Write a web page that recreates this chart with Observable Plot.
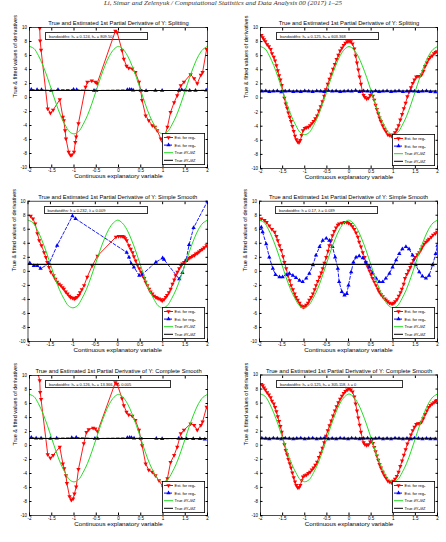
<!DOCTYPE html>
<html><head><meta charset="utf-8">
<script src="https://cdn.jsdelivr.net/npm/d3@7"></script>
<script src="https://cdn.jsdelivr.net/npm/@observablehq/plot@0.6"></script>
<style>
body{margin:0;background:#fff;}
#root{position:relative;width:446px;height:542px;overflow:hidden;background:#fff;font-family:"Liberation Sans",Arial,sans-serif;}
.hdr{position:absolute;left:0;width:446px;top:0px;text-align:center;font:italic 7px/7px "Liberation Serif",serif;color:#333;white-space:nowrap;}
.bw{position:absolute;border:0.8px solid #333;background:#fff;font-size:4px;line-height:7px;padding-left:3px;box-sizing:border-box;white-space:nowrap;color:#111;}
</style></head><body><div id="root"></div>
<script>
// ---------- shared text / ticks ----------
const headerText = "Li, Simar and Zelenyuk / Computational Statistics and Data Analysis 00 (2017) 1–25";
const titles = [
  "True and Estimated 1st Partial Derivative of Y: Splitting",
  "True and Estimated 1st Partial Derivative of Y: Splitting",
  "True and Estimated 1st Partial Derivative of Y: Simple Smooth",
  "True and Estimated 1st Partial Derivative of Y: Simple Smooth",
  "True and Estimated 1st Partial Derivative of Y: Complete Smooth",
  "True and Estimated 1st Partial Derivative of Y: Complete Smooth"
];
const bwTexts = [
  "bandwidths: h\u2081 = 0.124,  h\u2082 = 809.50",
  "bandwidths: h\u2081 = 0.125,  h\u2082 = 603.368",
  "bandwidths: h = 0.232,  \u03bb = 0.009",
  "bandwidths: h = 0.17,  \u03bb = 0.039",
  "bandwidths: h\u2081 = 0.126, h\u2082 = 13.366, \u03bb = 0.005",
  "bandwidths: h\u2081 = 0.125, h\u2082 = 305.118, \u03bb = 0"
];
const xLabel = "Continuous explanatory variable";
const yLabel = "True & fitted values of derivatives";
const legendLabels = ["Est. for reg\u2081", "Est. for reg\u2082", "True \u2202Y\u2081/\u2202Z", "True \u2202Y\u2082/\u2202Z"];
const xTicks = [-2, -1.5, -1, -0.5, 0, 0.5, 1, 1.5, 2];
const yTicks = [-10, -8, -6, -4, -2, 0, 2, 4, 6, 8, 10];

// ---------- true derivative curves ----------
const trueX  = [-2,-1.9,-1.8,-1.7,-1.6,-1.5,-1.4,-1.3,-1.2,-1.1,-1,-0.9,-0.8,-0.7,-0.6,-0.5,-0.4,-0.3,-0.2,-0.1,0,0.1,0.2,0.3,0.4,0.5,0.6,0.7,0.8,0.9,1,1.1,1.2,1.3,1.4,1.5,1.6,1.7,1.8,1.9,2];
const trueY1 = [7.3,7.0,6.0,4.6,2.9,1.0,-0.9,-2.6,-3.9,-4.9,-5.2,-4.9,-3.9,-2.6,-0.9,1.0,2.9,4.6,6.0,6.9,7.3,6.9,6.0,4.6,2.9,1.0,-0.9,-2.6,-3.9,-4.9,-5.2,-4.9,-3.9,-2.6,-0.9,1.0,2.9,4.6,6.0,6.9,7.3];
const trueY2X = [-2, 2];
const trueY2  = [1, 1];

// ---------- panel 1: Splitting (left) ----------
const redX1 = [-1.77,-1.76,-1.74,-1.59,-1.53,-1.47,-1.32,-1.25,-1.23,-1.2,-1.18,-1.12,-1.08,-1.05,-1.0,-0.97,-0.95,-0.9,-0.74,-0.7,-0.6,-0.52,-0.48,-0.07,-0.03,0.08,0.12,0.18,0.23,0.31,0.38,0.46,0.5,0.53,0.61,0.68,0.76,0.82,0.87,0.95,1.0,1.1,1.17,1.25,1.32,1.4,1.47,1.62,1.7,1.77,1.85,1.89,1.98];
const redY1 = [9.9,8.1,6.8,-1.6,-2.2,-1.8,-0.3,-2.8,-3.3,-4.7,-5.9,-7.8,-8.2,-8.2,-7.8,-6.4,-5.6,-3.7,1.5,2.2,2.4,2.2,2.0,9.5,9.3,6.7,5.5,4.5,4.2,4.1,3.6,2.2,1.0,-0.4,-2.6,-3.3,-4.0,-4.2,-4.7,-5.9,-6.4,-4.2,-2.1,-0.7,0.3,1.7,2.2,3.3,2.7,2.0,3.2,3.6,6.9];
const blueX1 = [-1.96,-1.83,-1.73,-1.51,-1.36,-1.01,-0.94,-0.55,-0.5,0.2,0.25,0.29,0.33,0.5,0.62,0.83,0.98,1.36,1.42,1.5,1.6,1.73,1.97];
const blueY1 = [1.15,1.1,1.1,1.0,1.1,1.15,1.1,1.0,1.0,1.1,1.15,1.1,1.05,1.0,0.95,1.0,1.0,1.0,1.1,1.05,1.0,1.0,1.05];

// ---------- panel 2: Splitting (right) ----------
const redX2 = [-1.98,-1.95,-1.92,-1.89,-1.85,-1.81,-1.77,-1.74,-1.70,-1.67,-1.64,-1.61,-1.58,-1.55,-1.52,-1.49,-1.46,-1.43,-1.40,-1.37,-1.34,-1.31,-1.28,-1.25,-1.22,-1.19,-1.16,-1.13,-1.10,-1.07,-1.04,-1.00,-0.96,-0.92,-0.88,-0.84,-0.80,-0.76,-0.72,-0.68,-0.64,-0.60,-0.56,-0.52,-0.48,-0.44,-0.40,-0.36,-0.32,-0.28,-0.24,-0.20,-0.16,-0.12,-0.08,-0.04,0.00,0.04,0.08,0.12,0.15,0.18,0.21,0.24,0.27,0.30,0.33,0.36,0.40,0.44,0.48,0.51,0.54,0.57,0.60,0.63,0.66,0.69,0.72,0.76,0.80,0.84,0.88,0.92,0.96,1.00,1.04,1.08,1.12,1.16,1.20,1.24,1.28,1.32,1.36,1.40,1.44,1.48,1.52,1.56,1.60,1.64,1.68,1.72,1.76,1.80,1.84,1.88,1.92,1.96,1.99];
const redY2 = [8.9,8.6,8.3,8.0,7.6,7.3,6.9,6.3,5.8,5.3,4.6,3.9,3.2,2.6,1.8,1.0,0.0,-0.8,-1.4,-2.1,-2.7,-3.3,-4.0,-4.7,-5.4,-5.9,-6.2,-6.3,-6.0,-5.3,-4.6,-4.3,-4.2,-4.1,-3.9,-3.6,-3.3,-2.9,-2.5,-1.8,-1.2,-0.5,0.3,1.2,2.0,2.7,3.4,4.1,4.8,5.5,6.1,6.7,7.1,7.5,7.8,8.0,8.0,8.0,7.7,7.0,6.0,5.0,4.0,3.0,2.0,1.0,0.4,0.1,-0.1,0.0,0.4,0.7,0.3,-0.3,-1.0,-1.6,-2.2,-2.8,-3.3,-3.9,-4.4,-4.8,-5.2,-5.3,-5.4,-5.2,-4.9,-4.5,-3.9,-3.1,-2.3,-1.5,-0.7,0.2,0.9,1.5,2.1,2.6,3.0,3.1,3.1,3.3,3.8,4.5,5.0,5.5,5.8,6.0,6.3,6.5,6.6];
const blueX2 = [-1.97,-1.88,-1.8,-1.71,-1.62,-1.53,-1.44,-1.35,-1.26,-1.18,-1.09,-1.0,-0.91,-0.82,-0.73,-0.64,-0.56,-0.47,-0.38,-0.29,-0.2,-0.11,-0.02,0.06,0.15,0.24,0.33,0.42,0.51,0.6,0.68,0.77,0.86,0.95,1.04,1.13,1.22,1.31,1.4,1.48,1.57,1.66,1.75,1.84,1.95];
const blueY2 = [0.95,1.0,0.9,0.95,1.0,0.85,0.95,1.0,0.9,0.95,0.9,1.0,0.95,0.9,1.0,0.95,0.9,1.05,0.95,1.0,0.9,0.95,1.0,0.95,1.05,0.9,1.0,0.95,0.9,1.0,0.9,0.95,1.0,0.9,0.95,1.0,0.9,0.95,1.0,0.95,0.9,0.95,1.0,0.9,0.85];

// ---------- panel 3: Simple Smooth (left) ----------
const redX3 = [-1.94,-1.89,-1.84,-1.79,-1.75,-1.70,-1.64,-1.60,-1.57,-1.53,-1.49,-1.43,-1.39,-1.35,-1.31,-1.27,-1.23,-1.20,-1.16,-1.12,-1.08,-1.05,-1.01,-0.97,-0.94,-0.91,-0.87,-0.84,-0.80,-0.75,-0.68,-0.57,-0.45,-0.04,0.02,0.07,0.11,0.14,0.17,0.20,0.25,0.29,0.33,0.36,0.40,0.44,0.48,0.52,0.55,0.59,0.62,0.66,0.70,0.73,0.77,0.81,0.85,0.88,0.92,0.96,0.99,1.03,1.07,1.10,1.14,1.18,1.22,1.26,1.29,1.33,1.37,1.41,1.44,1.48,1.52,1.56,1.59,1.63,1.67,1.71,1.74,1.78,1.81,1.85,1.89,1.93,1.98];
const redY3 = [7.9,7.5,6.8,5.4,4.4,3.7,2.7,2.0,1.3,0.6,-0.1,-0.6,-1.1,-1.5,-1.8,-2.0,-2.3,-2.5,-2.9,-3.2,-3.5,-3.7,-3.8,-3.9,-3.8,-3.7,-3.4,-3.0,-2.6,-2.0,-0.8,0.8,2.2,4.9,5.0,5.0,5.0,4.9,4.7,4.4,3.7,3.2,2.7,2.1,1.5,0.9,0.4,-0.1,-0.6,-1.0,-1.5,-2.0,-2.5,-2.9,-3.2,-3.5,-3.7,-3.8,-3.9,-4.0,-4.2,-4.0,-3.7,-3.4,-3.0,-2.5,-1.8,-1.2,-0.6,-0.1,0.4,0.8,1.1,1.3,1.5,1.7,1.9,2.0,2.2,2.3,2.5,2.6,2.8,3.0,3.2,3.4,3.7];
const blueX3 = [-1.96,-1.87,-1.79,-1.72,-1.53,-1.35,-1.01,-0.94,0.20,0.25,0.30,0.36,0.48,0.55,0.85,1.00,1.03,1.37,1.44,1.52,1.59,1.69,2.0];
const blueY3 = [1.2,0.8,0.8,0.4,1.1,3.7,7.9,7.5,2.7,2.0,1.1,0.6,-0.6,-0.4,1.3,1.9,1.7,-1.1,-0.2,1.5,3.8,6.2,10.0];

// ---------- panel 4: Simple Smooth (right) ----------
const redX4 = [-1.96,-1.89,-1.84,-1.78,-1.72,-1.66,-1.62,-1.59,-1.55,-1.51,-1.47,-1.44,-1.40,-1.36,-1.32,-1.29,-1.25,-1.21,-1.18,-1.14,-1.10,-1.07,-1.04,-1.01,-0.98,-0.95,-0.91,-0.88,-0.84,-0.80,-0.76,-0.73,-0.69,-0.65,-0.61,-0.58,-0.54,-0.50,-0.46,-0.43,-0.39,-0.36,-0.32,-0.28,-0.24,-0.21,-0.15,-0.09,-0.04,0.00,0.05,0.09,0.13,0.17,0.21,0.24,0.28,0.32,0.36,0.39,0.43,0.47,0.51,0.54,0.58,0.62,0.66,0.69,0.73,0.77,0.81,0.84,0.88,0.92,0.96,0.99,1.02,1.05,1.09,1.13,1.17,1.20,1.24,1.27,1.31,1.35,1.39,1.42,1.46,1.50,1.55,1.59,1.63,1.66,1.70,1.74,1.78,1.81,1.86,1.90,1.95,1.99];
const redY4 = [7.5,7.3,7.0,6.5,6.0,5.6,5.0,4.4,3.7,3.0,2.1,1.3,0.4,-0.6,-1.3,-2.0,-2.6,-3.2,-3.7,-4.1,-4.5,-4.9,-5.0,-5.1,-5.0,-4.8,-4.5,-4.1,-3.7,-3.2,-2.6,-2.0,-1.4,-0.8,-0.2,0.4,1.2,2.0,2.9,3.7,4.4,5.1,5.7,6.2,6.6,6.8,6.9,7.0,7.0,6.9,6.7,6.4,6.0,5.5,4.9,4.2,3.5,2.7,2.0,1.3,0.7,0.1,-0.5,-1.0,-1.5,-2.0,-2.5,-2.9,-3.3,-3.6,-3.9,-4.1,-4.3,-4.5,-4.6,-4.6,-4.5,-4.3,-4.0,-3.5,-3.0,-2.5,-1.8,-1.0,-0.4,0.1,0.6,1.1,1.6,2.0,2.4,2.7,3.1,3.5,3.9,4.2,4.4,4.6,4.9,5.2,5.4,5.6];
const blueX4 = [-1.96,-1.93,-1.85,-1.78,-1.70,-1.64,-1.55,-1.48,-1.40,-1.33,-1.25,-1.18,-1.10,-1.03,-0.95,-0.88,-0.80,-0.73,-0.65,-0.58,-0.50,-0.43,-0.36,-0.30,-0.24,-0.21,-0.15,-0.09,-0.04,0.00,0.06,0.11,0.17,0.24,0.32,0.39,0.47,0.54,0.62,0.69,0.77,0.84,0.92,0.99,1.07,1.14,1.21,1.29,1.36,1.44,1.51,1.59,1.66,1.74,1.81,1.89,1.96,2.0];
const blueY4 = [6.3,5.6,3.9,2.0,0.4,-0.5,-0.8,-0.8,-0.5,-0.3,-0.6,-0.9,-1.3,-1.5,-1.0,-0.3,0.9,2.3,3.5,4.4,4.7,4.4,3.5,2.0,0.4,-1.5,-2.9,-3.4,-3.2,-2.0,-0.1,1.3,2.0,2.2,1.9,1.3,0.6,-0.2,-1.0,-1.5,-1.5,-1.0,-0.3,0.6,1.6,2.5,3.2,3.5,3.2,2.3,0.9,-0.1,-0.7,-1.0,-0.6,0.9,2.5,3.7];

// ---------- panel 5: Complete Smooth (left) ----------
const redX5 = [-1.81,-1.77,-1.76,-1.74,-1.59,-1.53,-1.47,-1.32,-1.25,-1.22,-1.18,-1.16,-1.1,-1.06,-1.02,-0.99,-0.95,-0.9,-0.78,-0.72,-0.67,-0.57,-0.52,-0.47,-0.07,-0.03,0.08,0.12,0.18,0.23,0.31,0.38,0.46,0.5,0.53,0.61,0.68,0.76,0.83,0.91,1.0,1.1,1.17,1.25,1.32,1.4,1.47,1.62,1.7,1.77,1.85,1.89,1.98];
const redY5 = [10.3,9.3,7.6,6.6,-1.3,-1.8,-1.4,-0.2,-2.6,-3.3,-4.3,-5.4,-7.3,-7.8,-7.6,-6.9,-5.9,-3.4,0.3,1.9,2.3,2.5,2.4,2.0,9.0,8.8,6.7,5.7,4.8,4.4,4.2,3.6,2.2,1.0,0.0,-2.6,-3.5,-3.8,-4.3,-5.0,-5.9,-4.7,-2.4,-1.4,-0.2,1.7,2.2,3.1,2.9,2.2,2.9,3.4,5.5];
const blueX5 = [-1.96,-1.85,-1.74,-1.53,-1.39,-1.05,-0.95,-0.53,-0.47,0.2,0.25,0.29,0.35,0.5,0.85,0.98,1.35,1.42,1.53,1.68,1.83,1.94];
const blueY5 = [1.15,1.05,1.05,1.0,1.05,1.1,1.15,1.0,1.0,1.1,1.15,1.1,1.05,1.0,1.0,0.95,1.0,1.0,0.95,0.95,0.95,0.9];

// ---------- panel 6: Complete Smooth (right) ----------
const redX6 = redX2;
const redY6 = [8.7,8.5,8.2,7.9,7.5,7.2,6.8,6.3,5.9,5.4,4.8,4.1,3.4,2.7,1.9,1.0,0.1,-0.7,-1.3,-2.0,-2.6,-3.2,-3.9,-4.6,-5.2,-5.7,-6.0,-6.0,-5.7,-5.0,-4.5,-4.3,-4.2,-4.0,-3.8,-3.5,-3.2,-2.8,-2.4,-1.7,-1.1,-0.4,0.4,1.3,2.1,2.8,3.5,4.2,4.9,5.5,6.1,6.6,7.0,7.4,7.7,7.9,8.0,7.9,7.6,6.9,5.9,4.9,3.9,2.9,1.9,1.0,0.4,0.1,0.0,0.1,0.5,0.7,0.3,-0.3,-0.9,-1.5,-2.1,-2.7,-3.2,-3.8,-4.3,-4.7,-5.1,-5.2,-5.3,-5.1,-4.8,-4.4,-3.8,-3.0,-2.2,-1.4,-0.6,0.2,0.9,1.5,2.1,2.6,3.0,3.1,3.1,3.3,3.8,4.4,4.9,5.4,5.7,5.9,6.1,6.3,6.4];
const blueX6 = blueX2;
const blueY6 = [1.0,0.95,0.9,1.0,0.95,0.9,1.0,0.95,0.9,0.95,1.0,0.9,0.95,1.0,0.9,0.95,1.0,0.9,0.95,0.9,1.0,0.95,0.9,1.0,0.95,0.9,0.95,1.0,0.9,0.95,1.0,0.9,0.95,0.9,1.0,0.95,0.9,0.95,0.9,1.0,0.95,0.9,0.95,0.9,0.9];

const redSets  = [[redX1,redY1],[redX2,redY2],[redX3,redY3],[redX4,redY4],[redX5,redY5],[redX6,redY6]];
const blueSets = [[blueX1,blueY1],[blueX2,blueY2],[blueX3,blueY3],[blueX4,blueY4],[blueX5,blueY5],[blueX6,blueY6]];

// ---------- layout (pixels) ----------
const geo = [
  {left:0,   top:14,  w:222, h:172, mL:29,   mR:15, mT:13,   mB:19, boxW:103},
  {left:222, top:14,  w:224, h:172, mL:38,   mR:9,  mT:13,   mB:18, boxW:103},
  {left:0,   top:188, w:222, h:172, mL:27.5, mR:15, mT:12.7, mB:19, boxW:104},
  {left:222, top:188, w:224, h:172, mL:37,   mR:9,  mT:12.7, mB:19, boxW:103},
  {left:0,   top:362, w:222, h:172, mL:29,   mR:15, mT:13,   mB:19, boxW:126},
  {left:222, top:362, w:224, h:172, mL:38,   mR:9,  mT:12.5, mB:19, boxW:127}
];

const RED = "#ff0000", BLUE = "#0000ff", GREEN = "#22dd22", BLACK = "#000000";
const FONT = "Liberation Sans, Arial, sans-serif";

const triDown = {
  draw(ctx, size) {
    const y = Math.sqrt(size / (3 * Math.sqrt(3)));
    ctx.moveTo(0, 2 * y);
    ctx.lineTo(-Math.sqrt(3) * y, -y);
    ctx.lineTo(Math.sqrt(3) * y, -y);
    ctx.closePath();
  }
};

const root = document.getElementById("root");
const hdr = document.createElement("div");
hdr.className = "hdr"; hdr.textContent = headerText;
root.appendChild(hdr);

const toRows = (xs, ys) => xs.map((x, i) => ({x, y: ys[i]}));
const green = toRows(trueX, trueY1);
const black = toRows(trueY2X, trueY2);

// bandwidth boxes (beneath the plots)
geo.forEach((g, k) => {
  const b = document.createElement("div");
  b.className = "bw";
  b.style.left = (g.left + g.mL + 16) + "px";
  b.style.top = (g.top + g.mT + 5) + "px";
  b.style.width = g.boxW + "px";
  b.style.height = "8px";
  b.textContent = bwTexts[k];
  root.appendChild(b);
});

geo.forEach((g, k) => {
  const red = toRows(...redSets[k]);
  const blue = toRows(...blueSets[k]);
  const chart = Plot.plot({
    width: g.w, height: g.h,
    marginLeft: g.mL, marginRight: g.mR, marginTop: g.mT, marginBottom: g.mB,
    style: {background: "transparent", fontFamily: FONT, overflow: "visible"},
    x: {domain: [-2, 2]},
    y: {domain: [-10, 10]},
    marks: [
      Plot.line(red, {x: "x", y: "y", stroke: RED, strokeWidth: 0.9, clip: true}),
      Plot.dot(red, {x: "x", y: "y", symbol: triDown, r: 1.6, fill: RED, clip: true}),
      Plot.line(blue, {x: "x", y: "y", stroke: BLUE, strokeWidth: 0.9, strokeDasharray: "3,2", clip: true}),
      Plot.dot(blue, {x: "x", y: "y", symbol: "triangle", r: 1.6, fill: BLUE, clip: true}),
      Plot.line(green, {x: "x", y: "y", stroke: GREEN, strokeWidth: 1, curve: "catmull-rom", clip: true}),
      Plot.line(black, {x: "x", y: "y", stroke: BLACK, strokeWidth: 1.1, clip: true}),
      Plot.frame({stroke: "#000", strokeWidth: 0.7}),
      Plot.axisX(xTicks, {anchor: "bottom", tickSize: -2.5, tickPadding: 3.5, fontSize: 4.5, tickFormat: d => String(d), label: null}),
      Plot.axisX(xTicks, {anchor: "top", tickSize: -2.5, tickFormat: () => "", label: null}),
      Plot.axisY(yTicks, {anchor: "left", tickSize: -2.5, tickPadding: 5, fontSize: 4.5, tickFormat: d => String(d), label: null}),
      Plot.axisY(yTicks, {anchor: "right", tickSize: -2.5, tickFormat: () => "", label: null}),
      Plot.text([titles[k]], {text: d => d, frameAnchor: "top", dy: -6.5, fontSize: 5.8}),
      Plot.text([xLabel], {text: d => d, frameAnchor: "bottom", dy: 10.6, fontSize: 6.2}),
      Plot.text([yLabel], {text: d => d, frameAnchor: "left", dx: -14, rotate: -90, fontSize: 5.6})
    ]
  });
  chart.style.position = "absolute";
  chart.style.left = g.left + "px";
  chart.style.top = g.top + "px";
  root.appendChild(chart);
});

// legends (on top)
geo.forEach((g) => {
  const W = 43, H = 32;
  const plotRight = g.left + g.w - g.mR;
  const plotBottom = g.top + g.h - g.mB;
  const svg = d3.create("svg")
    .attr("width", W).attr("height", H)
    .style("position", "absolute")
    .style("left", (plotRight - 2 - W) + "px")
    .style("top", (plotBottom - 2.5 - H) + "px")
    .style("font-family", FONT);
  svg.append("rect").attr("x", 0.4).attr("y", 0.4).attr("width", W - 0.8).attr("height", H - 0.8)
    .attr("fill", "#fff").attr("stroke", "#000").attr("stroke-width", 0.8);
  const rows = [
    {c: RED, dash: null, sym: triDown},
    {c: BLUE, dash: "3,2", sym: d3.symbolTriangle},
    {c: GREEN, dash: null, sym: null},
    {c: BLACK, dash: null, sym: null}
  ];
  rows.forEach((r, i) => {
    const y = 4.5 + i * 7.6;
    svg.append("line").attr("x1", 2).attr("x2", 11).attr("y1", y).attr("y2", y)
      .attr("stroke", r.c).attr("stroke-width", 1).attr("stroke-dasharray", r.dash);
    if (r.sym) svg.append("path").attr("d", d3.symbol(r.sym, 8)()).attr("transform", `translate(6.5,${y})`).attr("fill", r.c);
    svg.append("text").attr("x", 12.5).attr("y", y).attr("dy", "0.35em").attr("font-size", 4).text(legendLabels[i]);
  });
  root.appendChild(svg.node());
});
</script></body></html>
